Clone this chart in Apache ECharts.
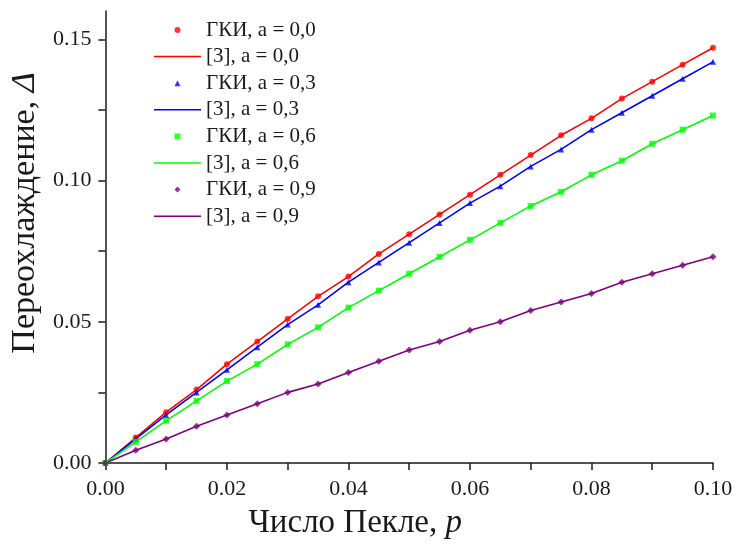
<!DOCTYPE html>
<html>
<head>
<meta charset="utf-8">
<script src="https://cdn.jsdelivr.net/npm/echarts@6/dist/echarts.min.js"></script>
<style>
    html, body { margin: 0; padding: 0; background: #fff; }
    #chart { width: 736px; height: 545px; }
</style>
</head>
<body>
<div id="chart"></div>
<script>
// Число Пекле p
const pValues = [0, 0.005, 0.01, 0.015, 0.02, 0.025, 0.03, 0.035, 0.04, 0.045, 0.05,
    0.055, 0.06, 0.065, 0.07, 0.075, 0.08, 0.085, 0.09, 0.095, 0.1];

// Переохлаждение для разных a
const delta00 = [0, 0.009, 0.018, 0.026, 0.035, 0.043, 0.051, 0.059, 0.066, 0.074, 0.081,
    0.088, 0.095, 0.102, 0.109, 0.116, 0.122, 0.129, 0.135, 0.141, 0.147];
const delta03 = [0, 0.0085, 0.017, 0.025, 0.033, 0.041, 0.049, 0.056, 0.064, 0.071, 0.078,
    0.085, 0.092, 0.098, 0.105, 0.111, 0.118, 0.124, 0.130, 0.136, 0.142];
const delta06 = [0, 0.0075, 0.015, 0.022, 0.029, 0.035, 0.042, 0.048, 0.055, 0.061, 0.067,
    0.073, 0.079, 0.085, 0.091, 0.096, 0.102, 0.107, 0.113, 0.118, 0.123];
const delta09 = [0, 0.0045, 0.0085, 0.013, 0.017, 0.021, 0.025, 0.028, 0.032, 0.036, 0.040,
    0.043, 0.047, 0.050, 0.054, 0.057, 0.060, 0.064, 0.067, 0.070, 0.073];

const aLabels = ['0,0', '0,3', '0,6', '0,9'];
const colors = ['#ff0000', '#0000ff', '#00ff00', '#800080'];
const symbols = ['circle', 'triangle', 'rect', 'diamond'];
// legend markers as square-box paths so they are not stretched
const legendMarks = [
    'circle',
    'path://M0,10L5,0L10,10Z',
    'path://M0,0H10V10H0Z',
    'path://M5,0L10,5L5,10L0,5Z'
];

// ticks
const xTicks = [0, 0.01, 0.02, 0.03, 0.04, 0.05, 0.06, 0.07, 0.08, 0.09, 0.1];
const xLabels = [0, 0.02, 0.04, 0.06, 0.08, 0.1];
const yTicks = [0, 0.025, 0.05, 0.075, 0.1, 0.125, 0.15];
const yLabels = [0, 0.05, 0.1, 0.15];

const allDelta = [delta00, delta03, delta06, delta09];
const pairs = (arr) => pValues.map((p, i) => [p, arr[i]]);

const series = [];
const legendData = [];
allDelta.forEach((arr, k) => {
    const dotName = 'ГКИ, a = ' + aLabels[k];
    const lineName = '[3], a = ' + aLabels[k];
    series.push({
        name: dotName,
        type: 'scatter',
        symbol: symbols[k],
        symbolSize: k === 3 ? 7 : 6,
        itemStyle: { color: colors[k] },
        data: pairs(arr),
        z: 3
    });
    series.push({
        name: lineName,
        type: 'line',
        symbol: 'none',
        lineStyle: { color: colors[k], width: 1.6 },
        itemStyle: { color: colors[k] },
        data: pairs(arr),
        z: 2
    });
    legendData.push({ name: dotName, icon: legendMarks[k] });
    legendData.push({ name: lineName, icon: 'path://M0,0H47V1.5H0Z' });
});

const font = 'Liberation Serif';
const ink = '#1a1a1a';
const chart = echarts.init(document.getElementById('chart'));
chart.setOption({
    animation: false,
    backgroundColor: '#fff',
    grid: { left: 105, right: 23, top: 11, bottom: 80 },
    legend: {
        orient: 'vertical',
        left: 149,
        top: 14,
        itemWidth: 47,
        itemHeight: 6,
        itemGap: 4.6,
        symbolKeepAspect: true,
        textStyle: { fontFamily: font, fontSize: 21, color: ink, lineHeight: 22 },
        data: legendData
    },
    xAxis: {
        type: 'value',
        min: 0,
        max: 0.1,
        name: 'Число Пекле, {i|p}',
        nameLocation: 'middle',
        nameGap: 44,
        nameTextStyle: {
            fontFamily: font, fontSize: 33, color: ink,
            padding: [0, 108, 0, 0],
            rich: { i: { fontFamily: font, fontSize: 33, fontStyle: 'italic', color: ink } }
        },
        splitLine: { show: false },
        axisLine: { lineStyle: { color: ink, width: 1.5 } },
        axisTick: { customValues: xTicks, length: 7, lineStyle: { color: ink, width: 1.5 } },
        axisLabel: {
            customValues: xLabels,
            fontFamily: font, fontSize: 22, color: ink, margin: 15,
            formatter: (v) => v.toFixed(2)
        }
    },
    yAxis: {
        type: 'value',
        min: 0,
        max: 0.16,
        name: 'Переохлаждение, {i|Δ}',
        nameLocation: 'middle',
        nameGap: 62,
        nameTextStyle: {
            fontFamily: font, fontSize: 34, color: ink,
            padding: [0, 0, 0, 48],
            rich: { i: { fontFamily: font, fontSize: 34, fontStyle: 'italic', color: ink } }
        },
        splitLine: { show: false },
        axisLine: { show: true, lineStyle: { color: ink, width: 1.5 } },
        axisTick: { show: true, customValues: yTicks, length: 7, lineStyle: { color: ink, width: 1.5 } },
        axisLabel: {
            customValues: yLabels,
            fontFamily: font, fontSize: 22, color: ink, margin: 14,
            formatter: (v) => v.toFixed(2)
        }
    },
    series: series
});
</script>
</body>
</html>
